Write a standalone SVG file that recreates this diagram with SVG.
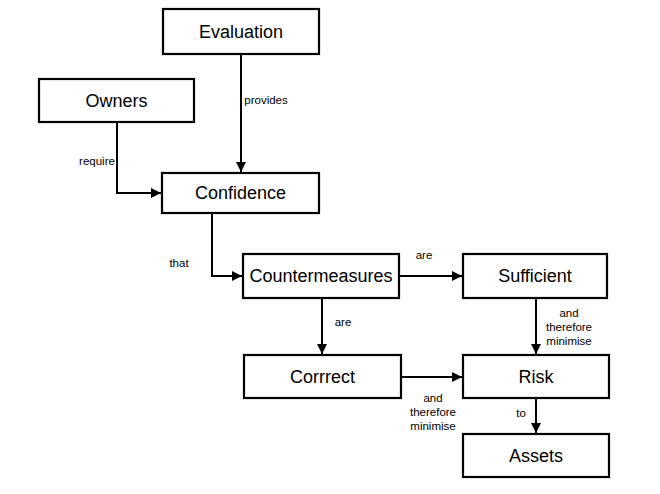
<svg xmlns="http://www.w3.org/2000/svg" width="660" height="494" viewBox="0 0 660 494">
<defs>
<marker id="arr" viewBox="0 0 10 10" refX="10" refY="5" markerWidth="5" markerHeight="5" orient="auto" markerUnits="strokeWidth">
<path d="M0,0 L10,5 L0,10 z" fill="#000"/>
</marker>
<style>
.box{fill:#fff;stroke:#000;stroke-width:2.2}
.t{font-family:"Liberation Sans",Arial,sans-serif;font-size:18px;text-anchor:middle;fill:#000}
.l{font-family:"Liberation Sans",Arial,sans-serif;font-size:11.5px;text-anchor:middle;fill:#000}
.c{fill:none;stroke:#000;stroke-width:2;marker-end:url(#arr)}
</style>
</defs>
<rect width="660" height="494" fill="#fff"/>
<g id="connectors">
<path class="c" d="M241,54 V172"/>
<path class="c" d="M117,122 V193 H161"/>
<path class="c" d="M212,213 V276 H242"/>
<path class="c" d="M399,276 H462"/>
<path class="c" d="M322,298 V354"/>
<path class="c" d="M536,298 V354"/>
<path class="c" d="M401,377 H462"/>
<path class="c" d="M536,398 V433"/>
<text class="l" x="266" y="104">provides</text>
<text class="l" x="97" y="165">require</text>
<text class="l" x="179" y="267">that</text>
<text class="l" x="424" y="259">are</text>
<text class="l" x="343" y="326">are</text>
<text class="l" x="569" y="317">and</text>
<text class="l" x="569" y="331">therefore</text>
<text class="l" x="569" y="345">minimise</text>
<text class="l" x="433" y="402">and</text>
<text class="l" x="433" y="416">therefore</text>
<text class="l" x="433" y="430">minimise</text>
<text class="l" x="521" y="417">to</text>
</g>
<g id="evaluation"><rect class="box" x="163" y="9" width="156" height="45"/><text class="t" x="241" y="38">Evaluation</text></g>
<g id="owners"><rect class="box" x="39" y="79" width="155" height="43"/><text class="t" x="116.5" y="107">Owners</text></g>
<g id="confidence"><rect class="box" x="162" y="173" width="157" height="40"/><text class="t" x="240.5" y="199">Confidence</text></g>
<g id="countermeasures"><rect class="box" x="243" y="254" width="156" height="44"/><text class="t" x="321" y="282">Countermeasures</text></g>
<g id="sufficient"><rect class="box" x="463" y="254" width="144" height="44"/><text class="t" x="535" y="282">Sufficient</text></g>
<g id="correct"><rect class="box" x="244" y="355" width="157" height="43"/><text class="t" x="322.5" y="383">Corrrect</text></g>
<g id="risk"><rect class="box" x="463" y="355" width="146" height="43"/><text class="t" x="536" y="383">Risk</text></g>
<g id="assets"><rect class="box" x="463" y="434" width="146" height="43"/><text class="t" x="536" y="462">Assets</text></g>
</svg>
